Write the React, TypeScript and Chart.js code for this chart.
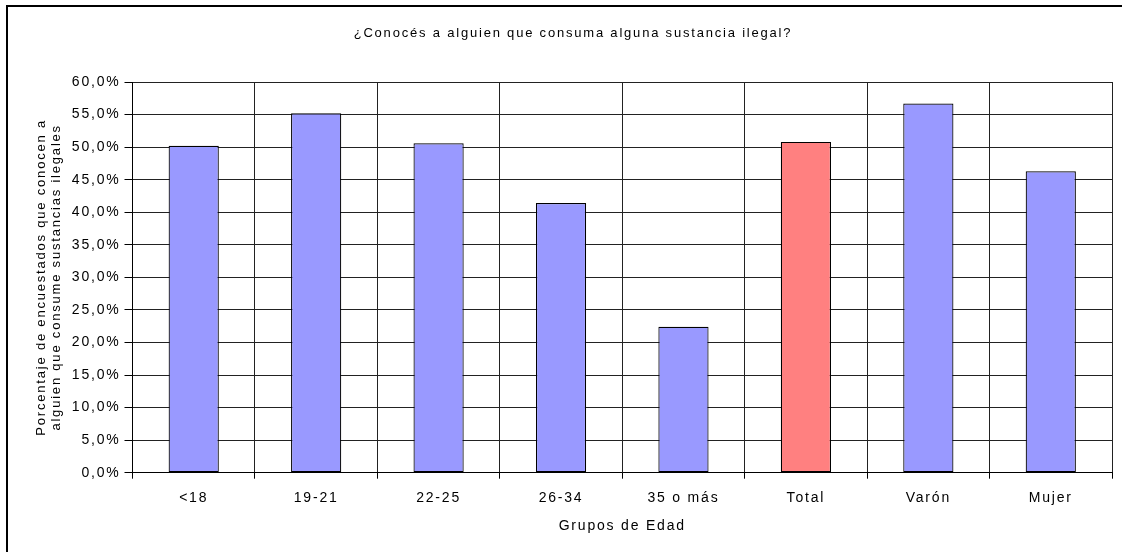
import React, { useEffect, useRef } from "react";
import { Chart, registerables } from "chart.js";

Chart.register(...registerables);

const chartTitle = "¿Conocés a alguien que consuma alguna sustancia ilegal?";
const xAxisTitle = "Grupos de Edad";
const yAxisTitle = ["Porcentaje de encuestados que conocen a", "alguien que consume sustancias ilegales"];
const categories = ["<18", "19-21", "22-25", "26-34", "35 o más", "Total", "Varón", "Mujer"];
const values = [50.2, 55.2, 50.6, 41.4, 22.4, 50.8, 56.7, 46.3];
const highlightCategory = "Total";
const yMin = 0;
const yMax = 60;
const yStep = 5;

const FONT = "'Liberation Sans', Arial, sans-serif";
const SPACING = "1.8px";

const decorPlugin = {
  id: "decor",
  beforeUpdate(chart: any) {
    chart.ctx.letterSpacing = SPACING;
  },
  beforeDraw(chart: any) {
    chart.ctx.letterSpacing = SPACING;
  },
  afterDraw(chart: any) {
    const ctx = chart.ctx;
    ctx.save();
    // outer chart frame (extends past the picture to the right and bottom)
    ctx.strokeStyle = "#000";
    ctx.lineWidth = 2;
    ctx.beginPath();
    ctx.moveTo(7, chart.height + 5);
    ctx.lineTo(7, 6);
    ctx.lineTo(chart.width + 5, 6);
    ctx.stroke();
    // chart title, centred over the whole chart frame
    ctx.letterSpacing = SPACING;
    ctx.fillStyle = "#000";
    ctx.font = `13px ${FONT}`;
    ctx.textAlign = "center";
    ctx.textBaseline = "middle";
    ctx.fillText(chartTitle, 573, 33);
    ctx.restore();
  },
};

export default function App() {
  const ref = useRef<HTMLCanvasElement | null>(null);

  useEffect(() => {
    if (!ref.current) return;
    const chart = new Chart(ref.current, {
      type: "bar",
      data: {
        labels: categories,
        datasets: [
          {
            data: values,
            backgroundColor: categories.map((c) => (c === highlightCategory ? "#FF8080" : "#9999FF")),
            borderColor: "#000",
            borderWidth: 1.2,
            borderSkipped: false,
            barPercentage: 0.41,
            categoryPercentage: 1,
          },
        ],
      },
      options: {
        animation: false,
        responsive: false,
        devicePixelRatio: 1,
        layout: { padding: { top: 82, left: 0, right: 10, bottom: 0 } },
        plugins: {
          legend: { display: false },
          tooltip: { enabled: false },
          title: { display: false },
        },
        scales: {
          x: {
            afterFit(scale: any) {
              scale.height = 79.3;
            },
            grid: {
              offset: true,
              color: "#222",
              lineWidth: 1,
              drawTicks: true,
              tickLength: 6,
              tickColor: "#000",
            },
            border: { color: "#000", width: 1 },
            ticks: {
              color: "#000",
              font: { family: FONT, size: 14 },
              padding: 11,
              maxRotation: 0,
              autoSkip: false,
            },
            title: {
              display: true,
              text: xAxisTitle,
              color: "#000",
              font: { family: FONT, size: 14 },
              padding: { top: 0, bottom: 17.6 },
            },
          },
          y: {
            min: yMin,
            max: yMax,
            afterFit(scale: any) {
              scale.width = 132.5;
            },
            grid: {
              color: "#222",
              lineWidth: 1,
              drawTicks: true,
              tickLength: 8,
              tickColor: "#000",
            },
            border: { color: "#000", width: 1 },
            ticks: {
              stepSize: yStep,
              color: "#000",
              font: { family: FONT, size: 14 },
              padding: 4,
              callback: (v: any) => Number(v).toFixed(1).replace(".", ",") + "%",
            },
            title: {
              display: true,
              text: yAxisTitle,
              color: "#000",
              font: { family: FONT, size: 13 },
              padding: { top: 33.2, bottom: 0 },
            },
          },
        },
      },
      plugins: [decorPlugin],
    });
    return () => chart.destroy();
  }, []);

  return (
    <div style={{ position: "absolute", left: 0, top: 0, width: 1122, height: 552, overflow: "hidden", background: "#fff" }}>
      <canvas ref={ref} width={1122} height={552} style={{ display: "block", width: 1122, height: 552 }} />
    </div>
  );
}
